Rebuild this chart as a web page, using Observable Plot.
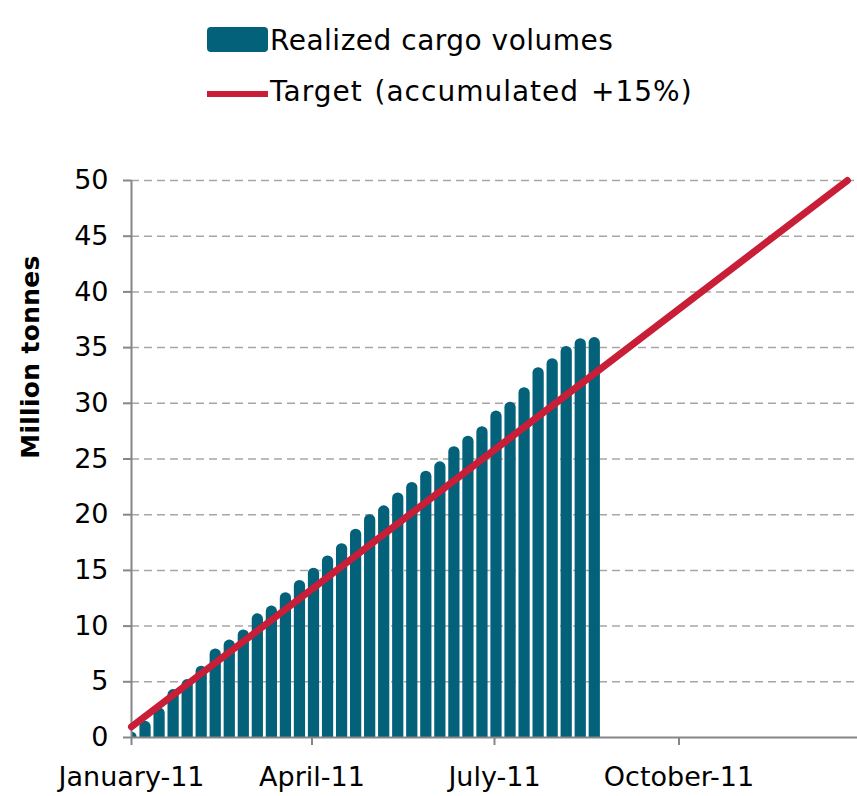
<!DOCTYPE html>
<html><head><meta charset="utf-8">
<script src="https://cdn.jsdelivr.net/npm/d3@7"></script>
<script src="https://cdn.jsdelivr.net/npm/@observablehq/plot@0.6"></script>
<style>
body{margin:0;background:#fff;font-family:"DejaVu Sans",Verdana,sans-serif;}
#wrap{position:relative;width:857px;height:796px;overflow:hidden;}
#legend{position:relative;height:130px;}
.sw{position:absolute;}
.lt{position:absolute;left:270px;font-size:28px;line-height:1;color:#000;white-space:nowrap;}
#ytitle{position:absolute;left:30px;top:357px;transform:translate(-50%,-50%) rotate(-90deg);font-size:25px;font-weight:bold;line-height:1;white-space:nowrap;color:#000;letter-spacing:0.3px;}
#chart svg g[aria-label*="axis"] line, #chart svg g[aria-label*="axis"] path{stroke:#868686;stroke-width:2;}
</style></head><body>
<div id="wrap">
<div id="legend">
 <div class="sw" style="left:207px;top:27px;width:61px;height:25px;background:#03617A;border-radius:4px"></div>
 <div class="lt" style="top:27px;letter-spacing:0.5px">Realized cargo volumes</div>
 <div class="sw" style="left:207px;top:91px;width:61px;height:6px;background:#C81E37"></div>
 <div class="lt" style="top:78px;letter-spacing:1px;word-spacing:2px">Target (accumulated +15%)</div>
</div>
<div id="chart"></div>
<div id="ytitle">Million tonnes</div>
</div>
<script>
const weekDates = ["2011-01-01","2011-01-08","2011-01-15","2011-01-22","2011-01-29",
  "2011-02-05","2011-02-12","2011-02-19","2011-02-26",
  "2011-03-05","2011-03-12","2011-03-19","2011-03-26",
  "2011-04-02","2011-04-09","2011-04-16","2011-04-23","2011-04-30",
  "2011-05-07","2011-05-14","2011-05-21","2011-05-28",
  "2011-06-04","2011-06-11","2011-06-18","2011-06-25",
  "2011-07-02","2011-07-09","2011-07-16","2011-07-23","2011-07-30",
  "2011-08-06","2011-08-13","2011-08-20"];
const cargoValues = [0.5,1.45,2.65,4.3,5.2,6.4,7.95,8.75,9.65,11.1,
  11.8,13.0,14.1,15.2,16.3,17.4,18.7,20.0,20.8,21.95,
  22.9,23.9,24.75,26.1,27.05,27.9,29.3,30.1,31.4,33.2,
  34.0,35.1,35.8,35.9];
const targetDates = ["2011-01-01","2011-12-24"];
const targetValues = [0.96, 50];
const xTickDates = ["2011-01-01","2011-04-01","2011-07-01","2011-10-01"];
const xTickLabels = ["January-11","April-11","July-11","October-11"];
const yTicks = [0,5,10,15,20,25,30,35,40,45,50];
const xDomain = ["2011-01-01","2011-12-29"];

const parse = d3.utcParse("%Y-%m-%d");
const bars = weekDates.map((d,i)=>({date: parse(d), value: cargoValues[i]}));
const target = targetDates.map((d,i)=>({date: parse(d), value: targetValues[i]}));
const halfBar = 2.8*864e5;
const tickDates = xTickDates.map(parse);

const chart = Plot.plot({
  width: 857, height: 666,
  marginTop: 50, marginBottom: 59, marginLeft: 131, marginRight: 0,
  style: {fontFamily: "DejaVu Sans, Verdana, sans-serif", fontSize: "27px", color: "#000", background: "#fff", overflow: "visible"},
  x: {type: "utc", domain: xDomain.map(parse), ticks: tickDates,
      tickFormat: d => xTickLabels[tickDates.findIndex(t => +t === +d)],
      tickSize: 8, tickPadding: 21, label: null},
  y: {domain: [0, 50], ticks: yTicks, tickSize: 8, tickPadding: 15, label: null},
  marks: [
    Plot.ruleY(yTicks.filter(v => v > 0), {stroke: "#A6A6A6", strokeWidth: 1.5, strokeDasharray: "8,5"}),
    Plot.rect(bars, {x1: d => new Date(+d.date - halfBar), x2: d => new Date(+d.date + halfBar),
      y1: d => -1, y2: "value", fill: "#03617A", rx: 5.5, clip: true}),
    Plot.ruleY([0], {stroke: "#868686", strokeWidth: 2}),
    Plot.ruleX([parse(xDomain[0])], {stroke: "#868686", strokeWidth: 2}),
    Plot.line(target, {x: "date", y: "value", stroke: "#C81E37", strokeWidth: 7})
  ]
});
document.getElementById("chart").appendChild(chart);
</script>
</body></html>
